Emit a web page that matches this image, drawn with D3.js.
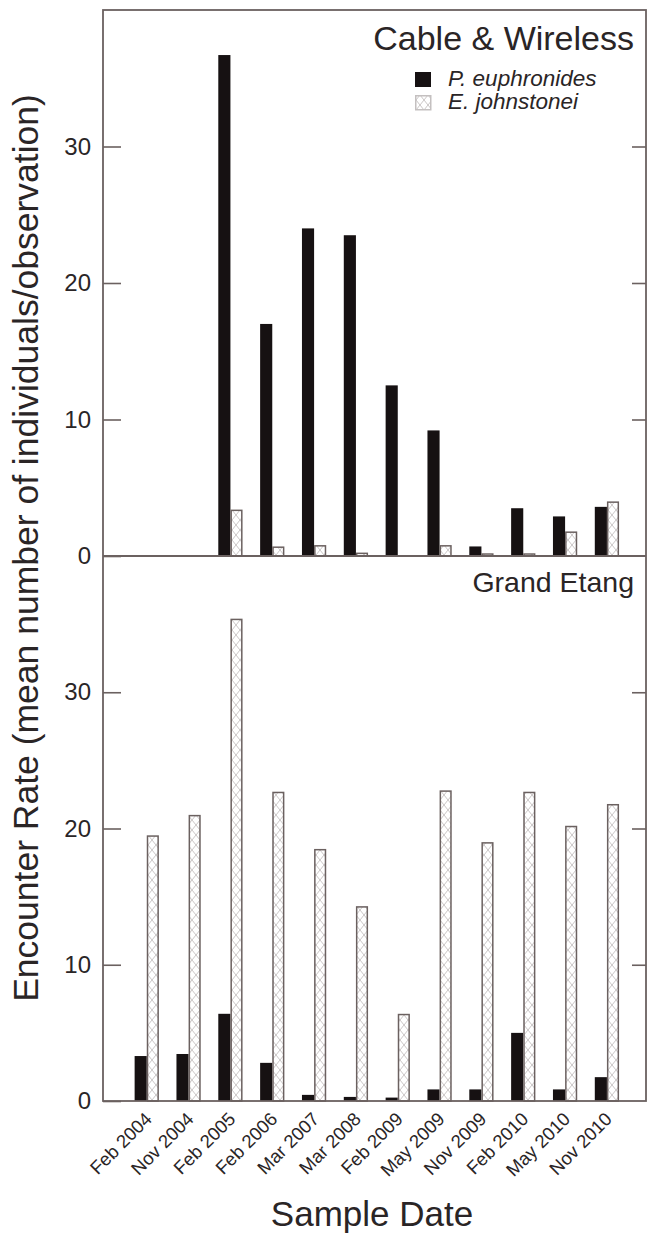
<!DOCTYPE html>
<html><head><meta charset="utf-8">
<script src="https://cdn.jsdelivr.net/npm/d3@7"></script>
<style>
html,body{margin:0;padding:0;background:#fff;}
svg text{font-family:"Liberation Sans",Arial,Helvetica,sans-serif;fill:#2a2526;}
</style></head>
<body><svg id="c" width="649" height="1235"></svg>
<script>
const categories = ["Feb 2004","Nov 2004","Feb 2005","Feb 2006","Mar 2007","Mar 2008","Feb 2009","May 2009","Nov 2009","Feb 2010","May 2010","Nov 2010"];
const seriesNames = ["P. euphronides","E. johnstonei"];
const cableEuphronides = [0,0,36.7,17.0,24.0,23.5,12.5,9.2,0.7,3.5,2.9,3.6];
const cableJohnstonei  = [0,0,3.4,0.7,0.8,0.25,0,0.8,0.2,0.2,1.8,4.0];
const grandEuphronides = [3.3,3.45,6.4,2.8,0.45,0.3,0.25,0.85,0.85,5.0,0.85,1.75];
const grandJohnstonei  = [19.5,21.0,35.4,22.7,18.5,14.3,6.4,22.8,19.0,22.7,20.2,21.8];
const yTicks = [0,10,20,30];
const panelTitles = ["Cable & Wireless","Grand Etang"];

const svg = d3.select("#c");
const axisCol = "#6b6160";
const left = 103, right = 646;
const x0 = d3.scaleBand().domain(categories).range([left,right]).paddingInner(0.42).paddingOuter(0.7).align(0.54);
const x1 = d3.scaleBand().domain(seriesNames).range([0,x0.bandwidth()]);

const defs = svg.append("defs");
const pat = defs.append("pattern").attr("id","hatch").attr("patternUnits","userSpaceOnUse")
  .attr("width",8).attr("height",10);
pat.append("rect").attr("width",8).attr("height",10).attr("fill","#fff");
pat.append("path").attr("d","M0,0 L8,10 M8,0 L0,10").attr("stroke","#c4c0c0").attr("stroke-width",0.9).attr("fill","none");

const panels = [
  {title:panelTitles[0], top:10, bottom:556, data:[cableEuphronides,cableJohnstonei], legend:true},
  {title:panelTitles[1], top:556, bottom:1101, data:[grandEuphronides,grandJohnstonei], legend:false}
];

panels.forEach((p,pi)=>{
  const y = d3.scaleLinear().domain([0,40]).range([p.bottom,p.top]);
  const g = svg.append("g");
  categories.forEach((c,i)=>{
    seriesNames.forEach((s,si)=>{
      const v = p.data[si][i];
      if(v<=0) return;
      const r = g.append("rect")
        .attr("x", x0(c)+x1(s)+(si===1?0.75:0))
        .attr("width", x1.bandwidth()-(si===1?1.5:0))
        .attr("y", y(v)+(si===1?0.75:0))
        .attr("height", y(0)-y(v)-(si===1?0.75:0));
      if(si===0) r.attr("fill","#161112");
      else r.attr("fill","url(#hatch)").attr("stroke",axisCol).attr("stroke-width",1.5);
    });
  });
  const la = d3.axisLeft(y).tickValues(yTicks).tickSize(-18).tickPadding(30).tickFormat(d3.format("d"));
  const lg = svg.append("g").attr("transform",`translate(${left},0)`).call(la);
  const ra = d3.axisRight(y).tickValues(yTicks.filter(d=>d>0)).tickSize(-14).tickFormat("");
  const rg = svg.append("g").attr("transform",`translate(${right},0)`).call(ra);
  [lg,rg].forEach(a=>{
    a.select(".domain").remove();
    a.selectAll(".tick line").attr("stroke",axisCol).attr("stroke-width",1.6);
  });
  lg.selectAll(".tick text").attr("font-size",24).attr("fill","#2a2526")
    .attr("font-family",'"Liberation Sans",Arial,sans-serif').attr("x",-12);
  svg.append("text").attr("x",634).attr("y", p.top + (pi===0?40:36)).attr("text-anchor","end")
    .attr("font-size",pi===0?34:28.5).text(p.title);
  if(p.legend){
    const lx = 415, ly = [72,95];
    svg.append("rect").attr("x",lx).attr("y",ly[0]).attr("width",16).attr("height",15).attr("fill","#161112");
    svg.append("rect").attr("x",lx+0.75).attr("y",ly[1]+0.75).attr("width",15).attr("height",14)
      .attr("fill","url(#hatch)").attr("stroke","#c4c0c0").attr("stroke-width",1.5);
    seriesNames.forEach((s,si)=>{
      svg.append("text").attr("x",448).attr("y",ly[si]+14).attr("font-size",22.5).attr("font-style","italic").text(s);
    });
  }
});

const frame = svg.append("g").attr("fill","none").attr("stroke",axisCol).attr("stroke-width",1.8);
frame.append("rect").attr("x",left).attr("y",10).attr("width",right-left).attr("height",1101-10);
frame.append("line").attr("x1",left).attr("x2",right).attr("y1",556).attr("y2",556);

const xa = d3.axisBottom(x0).tickSize(0).tickPadding(0);
const xg = svg.append("g").attr("transform","translate(0,1101)").call(xa);
xg.select(".domain").remove();
xg.selectAll(".tick text")
  .attr("font-size",18.5).attr("fill","#2a2526").attr("font-family",'"Liberation Sans",Arial,sans-serif')
  .attr("text-anchor","end").attr("dy","0.7em")
  .attr("transform","translate(-3,10) rotate(-45)").attr("y",0);

svg.append("text").attr("x",372).attr("y",1226).attr("text-anchor","middle").attr("font-size",35).text("Sample Date");
svg.append("text").attr("transform","translate(38,548) rotate(-90)").attr("text-anchor","middle")
  .attr("font-size",35.5).text("Encounter Rate (mean number of individuals/observation)");
</script>
</body></html>
